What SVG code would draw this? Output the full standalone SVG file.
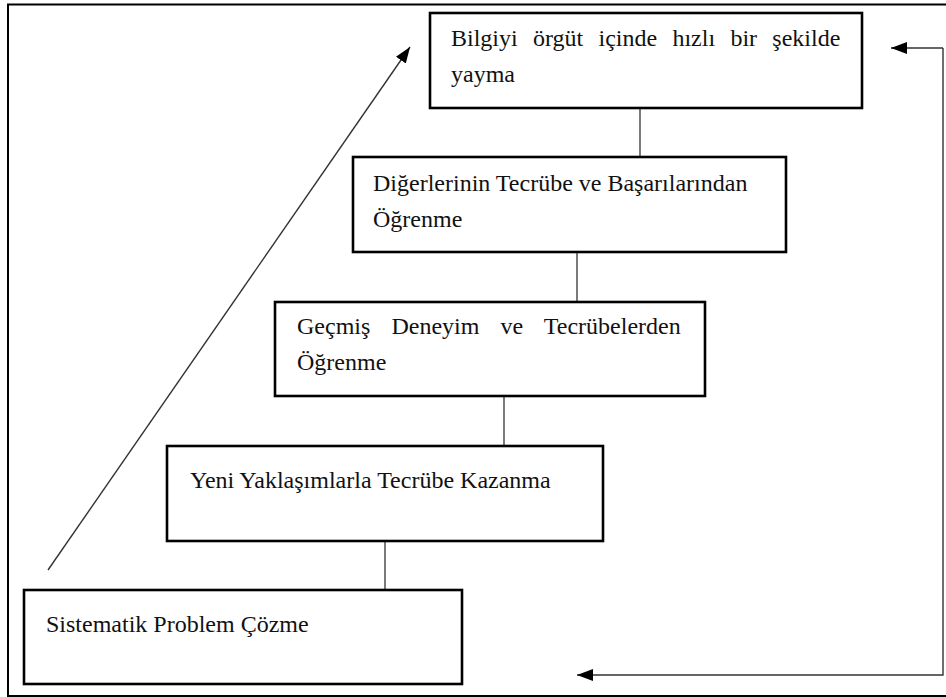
<svg xmlns="http://www.w3.org/2000/svg" width="946" height="697" viewBox="0 0 946 697">
<defs>
<style>
.box{fill:#fff;stroke:#000;stroke-width:2.6}
.lbl{font-family:"Liberation Serif","Times New Roman",serif;font-size:24px;fill:#111}
.link{stroke:#222;stroke-width:1.2;fill:none}
.arr{stroke:#333;stroke-width:1.4;fill:none}
</style>
<marker id="ah" markerUnits="userSpaceOnUse" markerWidth="18" markerHeight="14" refX="16" refY="6" orient="auto">
<path d="M0,0 L16,6 L0,12 z" fill="#000"/>
</marker>
</defs>
<rect x="0" y="0" width="946" height="697" fill="#fff"/>
<rect x="8" y="4.5" width="950" height="691.5" fill="none" stroke="#000" stroke-width="2"/>
<g id="connectors">
<line class="link" x1="640" y1="108" x2="640" y2="157"/>
<line class="link" x1="577" y1="252" x2="577" y2="302"/>
<line class="link" x1="504" y1="396" x2="504" y2="446"/>
<line class="link" x1="385" y1="541" x2="385" y2="590"/>
<line class="arr" x1="48" y1="570" x2="410" y2="47" marker-end="url(#ah)"/>
<polyline class="arr" points="943,48 943,675 577,675" marker-end="url(#ah)"/>
<line class="arr" x1="943" y1="48" x2="891" y2="48" marker-end="url(#ah)"/>
</g>
<g id="n1">
<rect class="box" x="430" y="13" width="432" height="95"/>
<text class="lbl" x="451" y="46" word-spacing="9.3">Bilgiyi örgüt içinde hızlı bir şekilde</text>
<text class="lbl" x="451" y="82">yayma</text>
</g>
<g id="n2">
<rect class="box" x="353" y="157" width="433" height="95"/>
<text class="lbl" x="373" y="191">Diğerlerinin Tecrübe ve Başarılarından</text>
<text class="lbl" x="373" y="227">Öğrenme</text>
</g>
<g id="n3">
<rect class="box" x="275" y="302" width="430" height="94"/>
<text class="lbl" x="297" y="334" word-spacing="15.1">Geçmiş Deneyim ve Tecrübelerden</text>
<text class="lbl" x="297" y="370">Öğrenme</text>
</g>
<g id="n4">
<rect class="box" x="167" y="446" width="436" height="95"/>
<text class="lbl" x="190" y="488">Yeni Yaklaşımlarla Tecrübe Kazanma</text>
</g>
<g id="n5">
<rect class="box" x="24" y="590" width="438" height="94"/>
<text class="lbl" x="46" y="632">Sistematik Problem Çözme</text>
</g>
</svg>
